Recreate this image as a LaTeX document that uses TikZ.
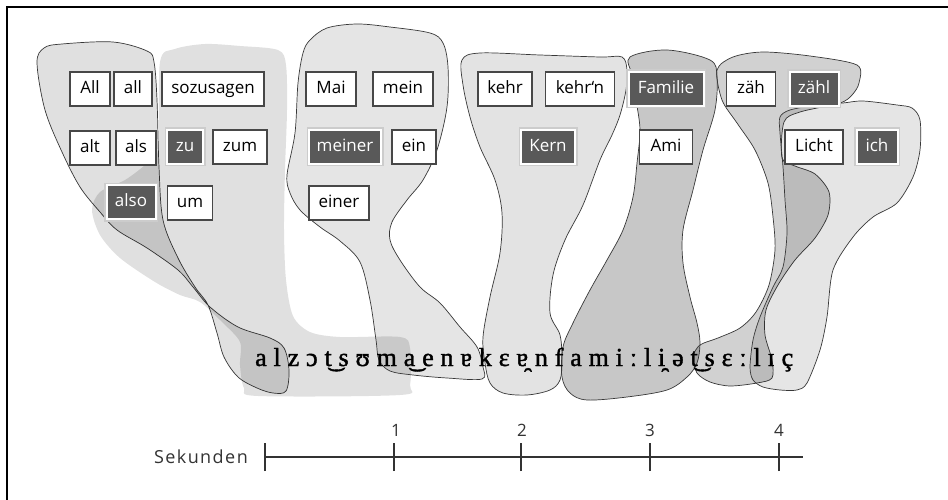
\documentclass[tikz,border=0pt]{standalone}
\usepackage{fontspec}
\newfontfamily\boxfont{Open Sans}
\newfontfamily\sekfont[LetterSpace=8]{Open Sans}
\newfontfamily\ipafont[FakeBold=1.5]{Liberation Serif}
\newlength\ipanat
\newlength\ipals
\newcommand\ipak{\kern\ipals}
\begin{document}
\settowidth\ipanat{\ipafont\fontsize{26}{30}\selectfont alzɔt͜sʊma͜enɐkɛɐ̯nfamiːli̯ət͜sɛːlɪç}%
\ifdim\ipanat<150pt \setlength\ipanat{330pt}\fi
\setlength\ipals{\dimexpr(538pt-\ipanat)/30\relax}%
\begin{tikzpicture}[x=1pt,y=-1pt,
  blob/.style={fill=black, fill opacity=#1, draw=black!78, line width=0.7pt},
  shade/.style={fill=black, fill opacity=#1, draw=none},
  wbox/.style={draw=black!72, fill=white, line width=1.1pt, inner sep=0pt,
    minimum height=34pt, text height=12pt, text depth=3.5pt, text=black,
    font=\boxfont\fontsize{17}{20}\selectfont},
  dbox/.style={wbox, fill=black!65, draw=white, line width=2pt, text=white,
    preaction={draw=black!20, line width=5pt}},
  tick/.style={draw=black!80, line width=1.1pt},
  axlab/.style={font=\boxfont\fontsize{17}{20}\selectfont, text=black!80, inner sep=0pt}
]
\useasboundingbox (0,0) rectangle (948,500);
\fill[white] (0,0) rectangle (948,500);

% frame (top and left)
\draw[line width=2.6pt] (948,7) -- (7,7) -- (7,500);

% blob 1 (All ... also), self-crossing
\draw[blob=0.12] plot[smooth cycle, tension=0.55] coordinates {
 (37,63) (44,48) (62,44) (113,42) (147,51) (154,62) (157,100) (159,167)
 (163,220) (178,258) (195,287) (208,305) (217,333) (224,357) (238,377)
 (257,388) (273,393) (286,391) (289,370) (284,348) (270,338) (238,327)
 (210,307) (193,287) (178,270) (147,248) (117,230) (100,212) (80,187)
 (62,152) (45,110)};

% blob 2 (zu, zum, um), no outline
\path[shade=0.12] plot[smooth cycle, tension=0.5] coordinates {
 (160,62) (175,49) (205,44) (240,46) (278,50) (286,65) (287,110) (285,170)
 (284,230) (286,280) (293,316) (310,332) (340,337) (400,337) (410,348)
 (410,385) (400,395) (258,396) (244,388) (240,365) (240,342) (222,322)
 (200,302) (180,295) (155,282) (120,258) (100,235) (92,210) (100,192)
 (125,180) (145,165) (158,150)};

% blob 3 (Mai ...)
\draw[blob=0.1] plot[smooth cycle, tension=0.55] coordinates {
 (310,40) (327,28) (357,24) (390,27) (430,33) (443,43) (448,67) (447,107)
 (437,150) (423,180) (407,200) (392,222) (390,240) (400,260) (420,287)
 (440,303) (460,327) (477,347) (483,367) (482,379) (447,378) (413,375)
 (390,371) (379,360) (376,340) (370,300) (360,262) (340,241) (320,227)
 (300,210) (290,193) (287,175) (295,133) (298,83) (303,53)};

% blob 4 (kehr ...)
\draw[blob=0.11] plot[smooth cycle, tension=0.55] coordinates {
 (462,60) (480,53) (540,55) (600,57) (622,57) (627,70) (626,90) (620,115)
 (612,135) (600,160) (583,205) (565,240) (553,275) (550,313) (560,335)
 (562,360) (560,380) (550,390) (527,395) (503,393) (490,383) (485,363)
 (483,337) (490,297) (500,253) (502,213) (495,180) (480,147) (470,117)
 (463,85)};

% blob 5 (Familie, Ami)
\draw[blob=0.22] plot[smooth cycle, tension=0.55] coordinates {
 (630,57) (667,50) (710,60) (717,77) (715,110) (703,150) (693,190)
 (683,230) (683,263) (690,297) (697,323) (700,343) (697,363) (687,377)
 (667,390) (627,397) (587,400) (570,393) (562,377) (563,347) (573,323)
 (590,290) (607,260) (623,230) (633,197) (637,163) (640,130) (636,100)
 (632,75)};

% blob 6 (zaeh, zaehl)
\draw[blob=0.18] plot[smooth cycle, tension=0.5] coordinates {
 (717,70) (733,57) (763,52) (810,56) (857,65) (859,83) (852,95) (840,103)
 (800,112) (784,122) (782,158) (795,166) (815,174) (829,192) (828,215)
 (815,238) (795,260) (778,285) (766,310) (765,335) (772,360) (772,378)
 (757,383) (730,386) (710,382) (697,373) (693,357) (700,345) (718,338)
 (740,328) (756,312) (769,285) (775,250) (773,217) (768,183) (755,150)
 (737,123) (722,100)};

% blob 7 (Licht, ich)
\draw[blob=0.1] plot[smooth cycle, tension=0.5] coordinates {
 (780,117) (790,110) (817,105) (843,103) (863,101) (897,105) (912,108)
 (920,120) (920,150) (913,177) (897,203) (873,217) (853,237) (833,270)
 (827,317) (820,350) (807,383) (797,390) (780,390) (763,387) (753,380)
 (750,367) (753,340) (760,317) (773,287) (783,267) (787,233) (785,200)
 (783,167) (780,133)};

% phonetic transcription
\node[anchor=base west, inner sep=0pt, text=black] (ipa) at (255,366)
 {\ipafont\fontsize{26}{30}\selectfont a\ipak l\ipak z\ipak ɔ\ipak t͜\ipak s\ipak ʊ\ipak m\ipak a͜\ipak e\ipak n\ipak ɐ\ipak k\ipak ɛ\ipak ɐ̯\ipak n\ipak f\ipak a\ipak m\ipak i\ipak ː\ipak l\ipak i̯\ipak ə\ipak t͜\ipak s\ipak ɛ\ipak ː\ipak l\ipak ɪ\ipak ç};

% word boxes
\node[wbox, minimum width=40pt] (All) at (90,89) {All};
\node[wbox, minimum width=38pt] (all) at (133,89) {all};
\node[wbox, minimum width=102pt] (sozusagen) at (213,89) {sozusagen};
\node[wbox, minimum width=40pt] (alt) at (90,148) {alt};
\node[wbox, minimum width=40pt] (als) at (136,148) {als};
\node[dbox, minimum width=36pt] (zu) at (185,147) {zu};
\node[wbox, minimum width=54pt] (zum) at (240,147) {zum};
\node[dbox, minimum width=49pt] (also) at (131,202) {also};
\node[wbox, minimum width=45pt] (um) at (190,203) {um};

\node[wbox, minimum width=50pt] (Mai) at (331,89) {Mai};
\node[wbox, minimum width=60pt] (mein) at (403,89) {mein};
\node[dbox, minimum width=72pt] (meiner) at (345,147) {meiner};
\node[wbox, minimum width=44pt] (ein) at (414,147) {ein};
\node[wbox, minimum width=60pt] (einer) at (339,203) {einer};

\node[wbox, minimum width=54pt] (kehr) at (505,89) {kehr};
\node[wbox, minimum width=69pt] (kehrn) at (580,89) {kehr‘n};
\node[dbox, minimum width=54pt] (Kern) at (548,147) {Kern};

\node[dbox, minimum width=75pt] (Familie) at (666,89) {Familie};
\node[wbox, minimum width=53pt] (Ami) at (666,147) {Ami};

\node[wbox, minimum width=49pt] (zaeh) at (751,89) {zäh};
\node[dbox, minimum width=49pt] (zaehl) at (814,89) {zähl};
\node[wbox, minimum width=58pt] (Licht) at (814,147) {Licht};
\node[dbox, minimum width=41pt] (ich) at (877,147) {ich};

% time axis
\node[axlab, anchor=east, font=\sekfont\fontsize{18}{21}\selectfont] (sek) at (248,457) {Sekunden};
\coordinate (t0) at (265,457);
\coordinate (t1) at (394,457);
\coordinate (t2) at (521,457);
\coordinate (t3) at (650,457);
\coordinate (t4) at (779,457);
\coordinate (tend) at (803,457);
\draw[tick] (t0) -- (tend);
\foreach \t in {t0,t1,t2,t3,t4}{
  \draw[tick] ([yshift=-14pt]\t) -- ([yshift=14pt]\t);
}
\node[axlab] (l1) at (396,430) {1};
\node[axlab] (l2) at (522,430) {2};
\node[axlab] (l3) at (650,430) {3};
\node[axlab] (l4) at (779,430) {4};
\end{tikzpicture}
\end{document}
